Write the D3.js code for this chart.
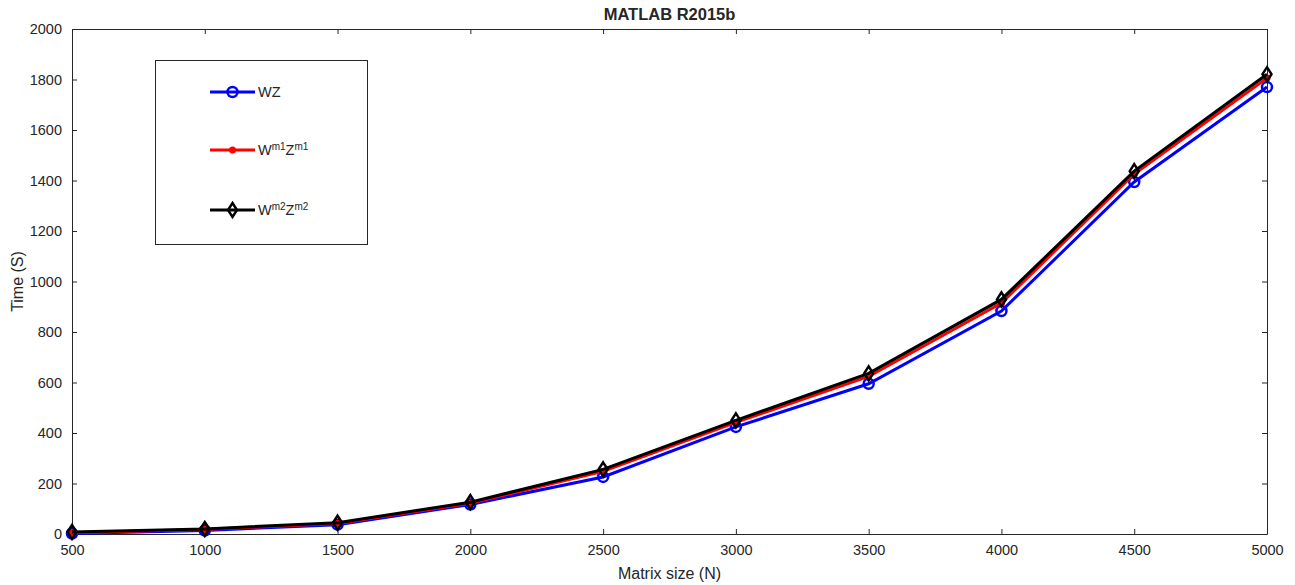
<!DOCTYPE html>
<html>
<head>
<meta charset="utf-8">
<script src="https://d3js.org/d3.v7.min.js"></script>
<style>
body { margin: 0; background: #fff; }
text { font-family: "Liberation Sans", Arial, sans-serif; fill: #262626; }
</style>
</head>
<body>
<div id="content"></div>
<script>
var width = 1295;
var height = 585;

var sizes = [500, 1000, 1500, 2000, 2500, 3000, 3500, 4000, 4500, 5000];
var wz = [2, 14, 37, 117, 226, 424, 595, 883, 1394, 1770];
var wm1 = [5, 18, 42, 122, 248, 442, 624, 915, 1426, 1806];
var wm2 = [8, 20, 45, 126, 256, 450, 636, 929, 1437, 1821];
var xTicks = [500, 1000, 1500, 2000, 2500, 3000, 3500, 4000, 4500, 5000];
var yTicks = [0, 200, 400, 600, 800, 1000, 1200, 1400, 1600, 1800, 2000];

var margin = { top: 29, right: 28, bottom: 51, left: 72 };
var plotW = width - margin.left - margin.right;
var plotH = height - margin.top - margin.bottom;

var svg = d3.select("#content").append("svg").attr("width", width).attr("height", height);

var x = d3.scaleLinear().domain([500, 5000]).range([0, plotW]);
var y = d3.scaleLinear().domain([0, 2000]).range([plotH, 0]);

var g = svg.append("g").attr("transform", `translate(${margin.left}, ${margin.top})`);

// axes with inward ticks on all four sides
function styleAxis(sel) {
    sel.selectAll("path, line").attr("stroke", "#262626");
    sel.selectAll("text").style("font-size", "14.5px").attr("fill", "#262626");
}

g.append("g").attr("transform", `translate(0, ${plotH})`)
    .call(d3.axisBottom(x).tickValues(xTicks).tickSize(-5).tickSizeOuter(0).tickPadding(11).tickFormat(d3.format("d")))
    .call(styleAxis);
g.append("g")
    .call(d3.axisLeft(y).tickValues(yTicks).tickSize(-5).tickSizeOuter(0).tickPadding(10).tickFormat(d3.format("d")))
    .call(styleAxis);
g.append("g")
    .call(d3.axisTop(x).tickValues(xTicks).tickSize(-5).tickSizeOuter(0).tickFormat(""))
    .call(styleAxis);
g.append("g").attr("transform", `translate(${plotW}, 0)`)
    .call(d3.axisRight(y).tickValues(yTicks).tickSize(-5).tickSizeOuter(0).tickFormat(""))
    .call(styleAxis);

var line = d3.line().x((d, i) => x(sizes[i])).y(d => y(d));

var series = [
    { name: "wz", values: wz, color: "#0000ff", marker: "circle" },
    { name: "m1", values: wm1, color: "#ff0000", marker: "dot" },
    { name: "m2", values: wm2, color: "#000000", marker: "diamond" }
];

function drawMarker(sel, s, cx, cy) {
    if (s.marker === "circle") {
        sel.append("circle").attr("cx", cx).attr("cy", cy).attr("r", 5)
            .attr("fill", "none").attr("stroke", s.color).attr("stroke-width", 2.5);
    } else if (s.marker === "dot") {
        sel.append("circle").attr("cx", cx).attr("cy", cy).attr("r", 3.5)
            .attr("fill", s.color);
    } else {
        sel.append("path")
            .attr("d", `M${cx},${cy - 7}L${cx + 4.5},${cy}L${cx},${cy + 7}L${cx - 4.5},${cy}Z`)
            .attr("fill", "none").attr("stroke", s.color).attr("stroke-width", 2.5);
    }
}

series.forEach(function (s) {
    g.append("path")
        .datum(s.values)
        .attr("d", line)
        .attr("fill", "none")
        .attr("stroke", s.color)
        .attr("stroke-width", 3);
    var mk = g.append("g");
    s.values.forEach(function (v, i) {
        drawMarker(mk, s, x(sizes[i]), y(v));
    });
});

// title and axis labels
svg.append("text")
    .attr("x", margin.left + plotW / 2)
    .attr("y", 20)
    .style("text-anchor", "middle")
    .style("font-size", "16.5px")
    .style("font-weight", "bold")
    .attr("fill", "#000")
    .text("MATLAB R2015b");

svg.append("text")
    .attr("x", margin.left + plotW / 2)
    .attr("y", 579)
    .style("text-anchor", "middle")
    .style("font-size", "16px")
    .text("Matrix size (N)");

svg.append("text")
    .attr("transform", `translate(23, ${margin.top + plotH / 2}) rotate(-90)`)
    .style("text-anchor", "middle")
    .style("font-size", "16px")
    .text("Time (S)");

// legend
var legend = svg.append("g").attr("class", "legend");
legend.append("rect")
    .attr("x", 155.5).attr("y", 60.5).attr("width", 212).attr("height", 184)
    .attr("fill", "#fff").attr("stroke", "#262626").attr("stroke-width", 1);

var legendY = [92, 150, 210];
series.forEach(function (s, i) {
    var ly = legendY[i];
    legend.append("line")
        .attr("x1", 210).attr("x2", 255).attr("y1", ly).attr("y2", ly)
        .attr("stroke", s.color).attr("stroke-width", 3);
    drawMarker(legend, s, 232.5, ly);
    var t = legend.append("text").attr("x", 258).attr("y", ly + 5).style("font-size", "14.5px");
    if (i === 0) {
        t.text("WZ");
    } else {
        var m = i === 1 ? "m1" : "m2";
        t.append("tspan").text("W");
        t.append("tspan").attr("dy", -5).style("font-size", "10px").text(m);
        t.append("tspan").attr("dy", 5).text("Z");
        t.append("tspan").attr("dy", -5).style("font-size", "10px").text(m);
    }
});
</script>
</body>
</html>
